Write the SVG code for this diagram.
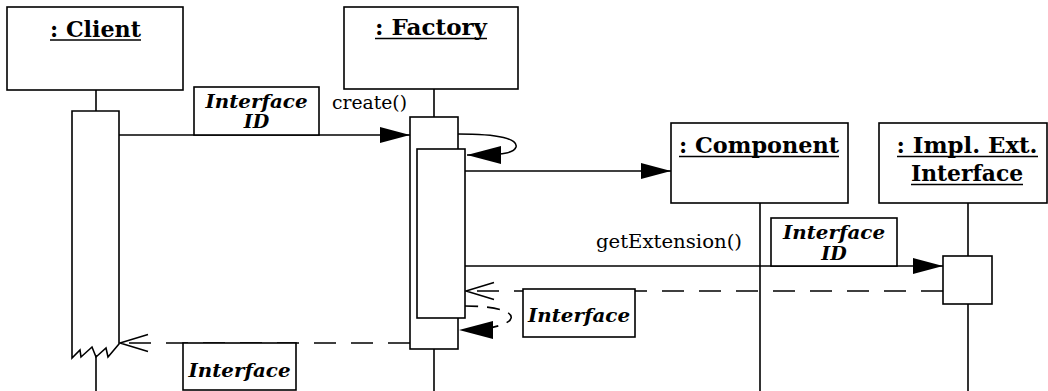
<svg xmlns="http://www.w3.org/2000/svg" width="1048" height="391" viewBox="0 0 1048 391">
<style>
.box{fill:#fff;stroke:#000;stroke-width:1.6}
.ln{fill:none;stroke:#000;stroke-width:1.6}
.dash{fill:none;stroke:#000;stroke-width:1.6;stroke-dasharray:22 15}
.ttl{font-family:"DejaVu Serif","Liberation Serif",serif;font-weight:bold;font-size:22px;text-anchor:middle}
.lbl{font-family:"DejaVu Serif","Liberation Serif",serif;font-weight:bold;font-style:italic;font-size:19px;text-anchor:middle}
.msg{font-family:"DejaVu Serif","Liberation Serif",serif;font-size:18px}
</style>
<defs>
<marker id="fa" viewBox="0 0 30 16" refX="30" refY="8" markerWidth="30" markerHeight="16" markerUnits="userSpaceOnUse" orient="auto">
<path d="M0,0 L30,8 L0,16 Z" fill="#000" stroke="none"/>
</marker>
<marker id="fa2" viewBox="0 0 34 18" refX="34" refY="9" markerWidth="34" markerHeight="18" markerUnits="userSpaceOnUse" orient="auto">
<path d="M0,0 L34,9 L0,18 Z" fill="#000" stroke="none"/>
</marker>
<marker id="oa" viewBox="-1 -1 30 20" refX="28" refY="8.5" markerWidth="30" markerHeight="20" markerUnits="userSpaceOnUse" orient="auto">
<path d="M0,0 L28,8.5 L0,17" fill="none" stroke="#000" stroke-width="1.6" stroke-dasharray="none"/>
</marker>
</defs>

<g id="client">
<rect class="box" x="7" y="7" width="176" height="83"/>
<text class="ttl" x="95.5" y="37" textLength="91" lengthAdjust="spacingAndGlyphs">: Client</text>
<line class="ln" x1="50" y1="40" x2="141" y2="40"/>
<line class="ln" x1="96" y1="90" x2="96" y2="111"/>
<path class="box" d="M72,111 H119 V344 L108,357 L106,348 L96,357 L92,347 L81,357 L80,350 L72,358 Z"/>
<line class="ln" x1="96" y1="355" x2="96" y2="391"/>
</g>

<g id="factory">
<rect class="box" x="344" y="7" width="174" height="82"/>
<text class="ttl" x="431" y="35" textLength="112" lengthAdjust="spacingAndGlyphs">: Factory</text>
<line class="ln" x1="375" y1="38.5" x2="487" y2="38.5"/>
<line class="ln" x1="434" y1="89" x2="434" y2="117"/>
<rect class="box" x="410" y="117" width="48" height="232"/>
<rect class="box" x="417" y="149" width="48" height="169"/>
<line class="ln" x1="434" y1="349" x2="434" y2="391"/>
</g>

<g id="component">
<rect class="box" x="671" y="123" width="177" height="80"/>
<text class="ttl" x="759" y="153" textLength="160" lengthAdjust="spacingAndGlyphs">: Component</text>
<line class="ln" x1="679" y1="156.5" x2="839" y2="156.5"/>
<line class="ln" x1="760" y1="203" x2="760" y2="391"/>
</g>

<g id="impl">
<rect class="box" x="879" y="123" width="168" height="80"/>
<text class="ttl" x="967" y="153" textLength="141" lengthAdjust="spacingAndGlyphs">: Impl. Ext.</text>
<line class="ln" x1="897" y1="156.5" x2="1038" y2="156.5"/>
<text class="ttl" x="967" y="181" textLength="112" lengthAdjust="spacingAndGlyphs">Interface</text>
<line class="ln" x1="911" y1="184.5" x2="1023" y2="184.5"/>
<line class="ln" x1="968" y1="203" x2="968" y2="256"/>
<rect class="box" x="943" y="256" width="49" height="48"/>
<line class="ln" x1="968" y1="304" x2="968" y2="391"/>
</g>

<g id="connectors">
<line class="ln" x1="119" y1="135" x2="410" y2="135" marker-end="url(#fa)"/>
<path class="ln" d="M458,134 C500,134 518,139 516,147 C514,153 505,155 467,155" marker-end="url(#fa2)"/>
<line class="ln" x1="465" y1="171" x2="671" y2="171" marker-end="url(#fa)"/>
<line class="ln" x1="465" y1="266" x2="943" y2="266" marker-end="url(#fa)"/>
<line class="dash" x1="943" y1="291" x2="466" y2="291" marker-end="url(#oa)"/>
<path class="dash" style="stroke-dasharray:13 9" d="M465,306 C530,306 525,330 459,330" marker-end="url(#fa2)"/>
<line class="dash" x1="410" y1="343" x2="120" y2="343" marker-end="url(#oa)"/>
</g>

<g id="label-create-id">
<rect class="box" x="194" y="87" width="125" height="48"/>
<text class="lbl" x="256.5" y="108" textLength="102" lengthAdjust="spacingAndGlyphs">Interface</text>
<text class="lbl" x="256.5" y="128">ID</text>
</g>
<text id="label-create" class="msg" x="332" y="109" textLength="75" lengthAdjust="spacingAndGlyphs">create()</text>

<text id="label-getext" class="msg" x="596" y="248" textLength="146" lengthAdjust="spacingAndGlyphs">getExtension()</text>
<g id="label-getext-id">
<rect class="box" x="771" y="218" width="126" height="48"/>
<text class="lbl" x="834" y="239" textLength="102" lengthAdjust="spacingAndGlyphs">Interface</text>
<text class="lbl" x="834" y="260">ID</text>
</g>

<g id="label-ret1">
<rect class="box" x="523" y="289" width="112" height="48"/>
<text class="lbl" x="579" y="322" textLength="102" lengthAdjust="spacingAndGlyphs">Interface</text>
</g>
<g id="label-ret2">
<rect class="box" x="183" y="343" width="113" height="47"/>
<text class="lbl" x="239.5" y="377" textLength="102" lengthAdjust="spacingAndGlyphs">Interface</text>
</g>
</svg>
